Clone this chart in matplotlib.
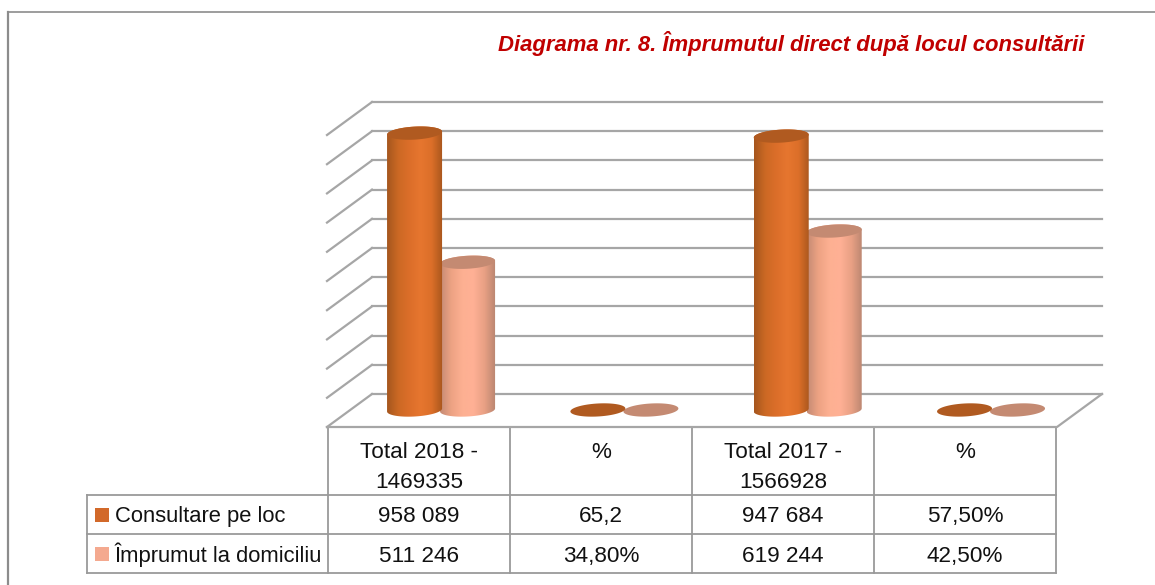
import numpy as np
import matplotlib
matplotlib.use('Agg')
import matplotlib.pyplot as plt
from matplotlib.colors import LinearSegmentedColormap
from matplotlib.path import Path
from matplotlib.patches import PathPatch, Rectangle

plt.rcParams['font.family'] = ['Liberation Sans', 'DejaVu Sans']

# date din diagrama
title = "Diagrama nr. 8. Împrumutul direct după locul consultării"
categories = ["Total 2018 -\n1469335", "%", "Total 2017 -\n1566928", "%"]
series_names = ["Consultare pe loc", "Împrumut la domiciliu"]
consultare = [958089, 65.2, 947684, 57.5]
imprumut = [511246, 34.8, 619244, 42.5]
consultare_labels = ["958 089", "65,2", "947 684", "57,50%"]
imprumut_labels = ["511 246", "34,80%", "619 244", "42,50%"]
grid_values = [0, 100000, 200000, 300000, 400000, 500000,
               600000, 700000, 800000, 900000, 1000000]

W, H = 1155, 585
fig = plt.figure(figsize=(W / 100, H / 100), dpi=100, facecolor='white')


def px_axes(x0, y0, x1, y1):
    # axes dat in pixeli, cu y de sus in jos ca in imagine
    a = fig.add_axes([x0 / W, 1 - y1 / H, (x1 - x0) / W, (y1 - y0) / H])
    a.axis('off')
    a.patch.set_alpha(0)
    return a


# cadrul si tabelul, in pixeli
ax = px_axes(0, 0, W, H)
ax.set_xlim(0, W)
ax.set_ylim(H, 0)
frame_c = '#8c8c8c'
ax.plot([8, 8], [12, H], color=frame_c, lw=1.6)
ax.plot([8, W], [12, 12], color=frame_c, lw=1.2)
ax.text(1084, 51, title, color='#c00000', fontsize=15.9, fontweight='bold',
        fontstyle='italic', ha='right', va='baseline')

# peretele din spate: grila 3D
wall = px_axes(372, 102, 1102, 394)
wall.set_xlim(0, 1)
wall.set_ylim(0, 1000000)
grid_c = '#a6a6a6'
dx = -45 / 730
dv = -33 / 292 * 1000000
for v in grid_values:
    wall.plot([0, 1], [v, v], color=grid_c, lw=1.6, clip_on=False, zorder=1)
    wall.plot([dx, 0], [v + dv, v], color=grid_c, lw=1.6, clip_on=False, zorder=1)
wall.plot([dx, 1 + dx, 1], [dv, dv, 0], color=grid_c, lw=1.6, clip_on=False, zorder=1)

# cilindrii
bars = px_axes(349.4, 121, 1082.7, 424.45)
ylim_bars = (-50000, 1000000)
bars.set_xlim(-0.5, 3.5)
bars.set_ylim(*ylim_bars)
bar_step = 53 / 183.3
bar_w = 55 / 183.3
ell_h = 6.5 / 289 * 1000000
tilt = 1.5 / 289 * 1000000

orange_map = LinearSegmentedColormap.from_list(
    'orange', ['#a5561e', '#cc6924', '#dc6e2a', '#e6762f', '#dc6f29', '#a8561d'])
peach_map = LinearSegmentedColormap.from_list(
    'peach', ['#c48b74', '#eda283', '#fdb092', '#ffb095', '#e8a084', '#b98570'])


def ellipse_xy(cx, cy, t):
    return cx + bar_w / 2 * np.cos(t), cy + ell_h * np.sin(t) + tilt * np.cos(t)


def cylinder(cx, value, cmap, top_color):
    # corpul: dreptunghi cu jumatatea de jos a elipsei, umplut cu gradient
    if value > 1000:
        t = np.linspace(np.pi, 2 * np.pi, 40)
        xb, yb = ellipse_xy(cx, 0, t)
        xt, yt = ellipse_xy(cx, value, t[::-1] * -1)
        verts = np.column_stack([np.r_[xb, xt], np.r_[yb, yt]])
        clip = PathPatch(Path(np.vstack([verts, verts[0]]), closed=True),
                         transform=bars.transData, fc='none', ec='none')
        bars.add_patch(clip)
        im = bars.imshow(np.linspace(0, 1, 128).reshape(1, -1), cmap=cmap, aspect='auto',
                         extent=[cx - bar_w / 2, cx + bar_w / 2, -ell_h * 1.5, value + ell_h * 1.5],
                         zorder=3, clip_on=True)
        im.set_clip_path(clip)
    t = np.linspace(0, 2 * np.pi, 80)
    xe, ye = ellipse_xy(cx, value, t)
    bars.fill(xe, ye, color=top_color, lw=0, zorder=3, clip_on=False)


for i in range(len(categories)):
    cylinder(i + bar_step / 2, imprumut[i], peach_map, '#c48a72')
    cylinder(i - bar_step / 2, consultare[i], orange_map, '#b05a20')
bars.set_xlim(-0.5, 3.5)
bars.set_ylim(*ylim_bars)

# tabelul de date
table_c = '#9a9a9a'
col_x = [328, 510, 692, 874, 1056]
row_y = [427, 495, 534, 573]
for x in col_x:
    ax.plot([x, x], [row_y[0], row_y[-1]], color=table_c, lw=1.3, zorder=5)
for y in row_y[1:]:
    ax.plot([87, col_x[-1]], [y, y], color=table_c, lw=1.3, zorder=5)
ax.plot([87, 87], [row_y[1], row_y[-1]], color=table_c, lw=1.3, zorder=5)

tsize = 16.2
for i, cat in enumerate(categories):
    cx = (col_x[i] + col_x[i + 1]) / 2
    ax.text(cx, 458, cat.split("\n")[0], fontsize=tsize, ha='center', va='baseline', color='#111111')
    if "\n" in cat:
        ax.text(cx, 488, cat.split("\n")[1], fontsize=tsize, ha='center', va='baseline', color='#111111')
    ax.text(cx, 522, consultare_labels[i], fontsize=tsize, ha='center', va='baseline', color='#111111')
    ax.text(cx, 562, imprumut_labels[i], fontsize=tsize, ha='center', va='baseline', color='#111111')

swatch = ['#d2692a', '#f4a98f']
label_base = [522, 562]
for r, name in enumerate(series_names):
    cy = (row_y[r + 1] + row_y[r + 2]) / 2
    ax.add_patch(Rectangle((95, cy - 7), 14, 14, fc=swatch[r], ec='none', zorder=5))
    ax.text(115, label_base[r], name, fontsize=15.8, ha='left', va='baseline', color='#111111')

fig.savefig('out.png', dpi=100, facecolor='white')
